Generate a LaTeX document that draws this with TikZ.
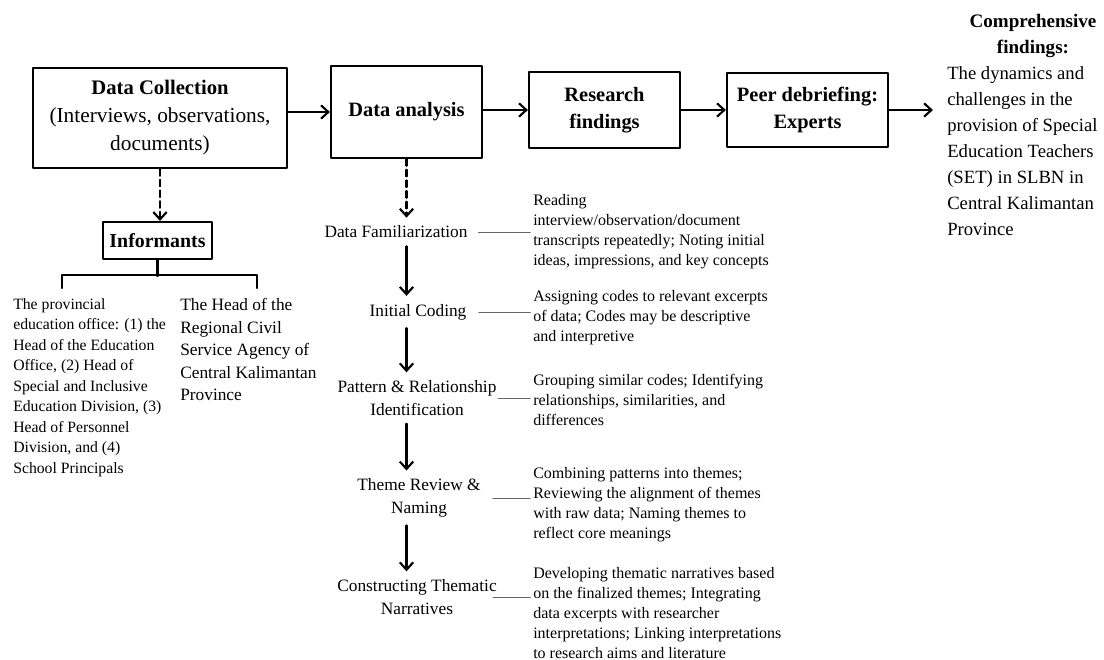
\documentclass[tikz,border=0pt]{standalone}
\usepackage{fontspec}
\setmainfont{Liberation Serif}
\usetikzlibrary{arrows.meta}

\begin{document}
\begin{tikzpicture}[line cap=round,line join=round,x=0.75pt,y=-0.75pt,
  >={Straight Barb[length=5.5pt,width=10pt]},
  box/.style={draw,line width=1.6pt,align=center,inner sep=0pt,font=\fontsize{15.3}{20}\selectfont\bfseries},
  flow/.style={->,line width=1.6pt},
  dashflow/.style={->,line width=1.6pt,dash pattern=on 5pt off 3pt},
  stage/.style={align=center,inner xsep=0pt,inner ysep=6pt,font=\fontsize{13}{17}\selectfont},
  note/.style={anchor=west,align=left,inner sep=0pt,font=\fontsize{12}{15}\selectfont},
  link/.style={line width=0.6pt,black!60,shorten >=2pt}]
\useasboundingbox (0,0) rectangle (1104,660);

\node[box,minimum width=190.5pt,minimum height=75pt,font=\fontsize{15.5}{21}\selectfont\bfseries] (dc) at (160,118)
  {Data Collection\\{\mdseries\fontsize{16}{21}\selectfont (Interviews, observations,}\\{\mdseries\fontsize{16}{21}\selectfont documents)}};
\node[box,minimum width=113.25pt,minimum height=69pt] (da) at (406.5,112) {Data analysis};
\node[box,minimum width=113.25pt,minimum height=57pt] (rf) at (604.5,110) {Research\\findings};
\node[box,minimum width=120.75pt,minimum height=55.5pt] (pd) at (807.5,110) {Peer debriefing:\\Experts};
\coordinate (out) at (933,110);
\node[anchor=north,align=center,inner sep=0pt,font=\fontsize{14.3}{19.5}\selectfont\bfseries] (cfh) at (1033,14) {Comprehensive\\findings:};
\node[anchor=north west,align=left,inner sep=0pt,font=\fontsize{14}{19.5}\selectfont] (cfb) at (947,66)
  {The dynamics and\\challenges in the\\provision of Special\\Education Teachers\\(SET) in SLBN in\\Central Kalimantan\\Province};

\draw[flow] (da.west -| dc.east) -- (da.west);
\draw[flow] (rf.west -| da.east) -- (rf.west);
\draw[flow] (pd.west -| rf.east) -- (pd.west);
\draw[flow] (pd.east) -- (out);

\node[box,minimum width=81.75pt,minimum height=27.75pt,font=\fontsize{14.9}{18}\selectfont\bfseries] (inf) at (157.5,240.5) {Informants};
\draw[dashflow] (dc.south) -- (dc.south |- inf.north);
\coordinate (brl) at (62,288);
\coordinate (brr) at (257,288);
\draw[line width=1.6pt] (inf.south) -- ++(0,16);
\draw[line width=1.6pt] (brl) -- ++(0,-13) -| (brr);
\node[anchor=north west,align=left,inner sep=0pt,font=\fontsize{11.8}{15.4}\selectfont] (col1) at (13,298)
  {The provincial\\education office: (1) the\\Head of the Education\\Office, (2) Head of\\Special and Inclusive\\Education Division, (3)\\Head of Personnel\\Division, and (4)\\School Principals};
\node[anchor=north west,align=left,inner sep=0pt,font=\fontsize{13}{16.9}\selectfont] (col2) at (180,298)
  {The Head of the\\Regional Civil\\Service Agency of\\Central Kalimantan\\Province};

\node[stage] (df) at (396,232) {Data Familiarization};
\node[stage] (ic) at (418,312) {Initial Coding};
\node[stage] (pr) at (417,398) {Pattern \& Relationship\\Identification};
\node[stage] (tr) at (419,498) {Theme Review \&\\Naming};
\node[stage] (ct) at (417,597) {Constructing Thematic\\Narratives};
\draw[dashflow] (da.south) -- (da.south |- df.north);
\draw[flow] (df.south -| da.south) -- (ic.north -| da.south);
\draw[flow] (ic.south -| da.south) -- (pr.north -| da.south);
\draw[flow] (pr.south -| da.south) -- (tr.north -| da.south);
\draw[flow] (tr.south -| da.south) -- (ct.north -| da.south);

\node[note] (dfd) at (533,232) {Reading\\interview/observation/document\\transcripts repeatedly; Noting initial\\ideas, impressions, and key concepts};
\node[note] (icd) at (533,318) {Assigning codes to relevant excerpts\\of data; Codes may be descriptive\\and interpretive};
\node[note] (prd) at (533,400) {Grouping similar codes; Identifying\\relationships, similarities, and\\differences};
\node[note] (trd) at (533,505) {Combining patterns into themes;\\Reviewing the alignment of themes\\with raw data; Naming themes to\\reflect core meanings};
\node[note] (ctd) at (533,613) {Developing thematic narratives based\\on the finalized themes; Integrating\\data excerpts with researcher\\interpretations; Linking interpretations\\to research aims and literature};
\draw[link] ([xshift=8pt]df.east) -- (df.east -| dfd.west);
\draw[link] ([xshift=9pt]ic.east) -- (ic.east -| icd.west);
\draw[link] ([xshift=1pt]pr.east) -- (pr.east -| prd.west);
\draw[link] ([xshift=9pt]tr.east) -- (tr.east -| trd.west);
\draw[link] ([xshift=-3pt]ct.east) -- (ct.east -| ctd.west);
\end{tikzpicture}
\end{document}
